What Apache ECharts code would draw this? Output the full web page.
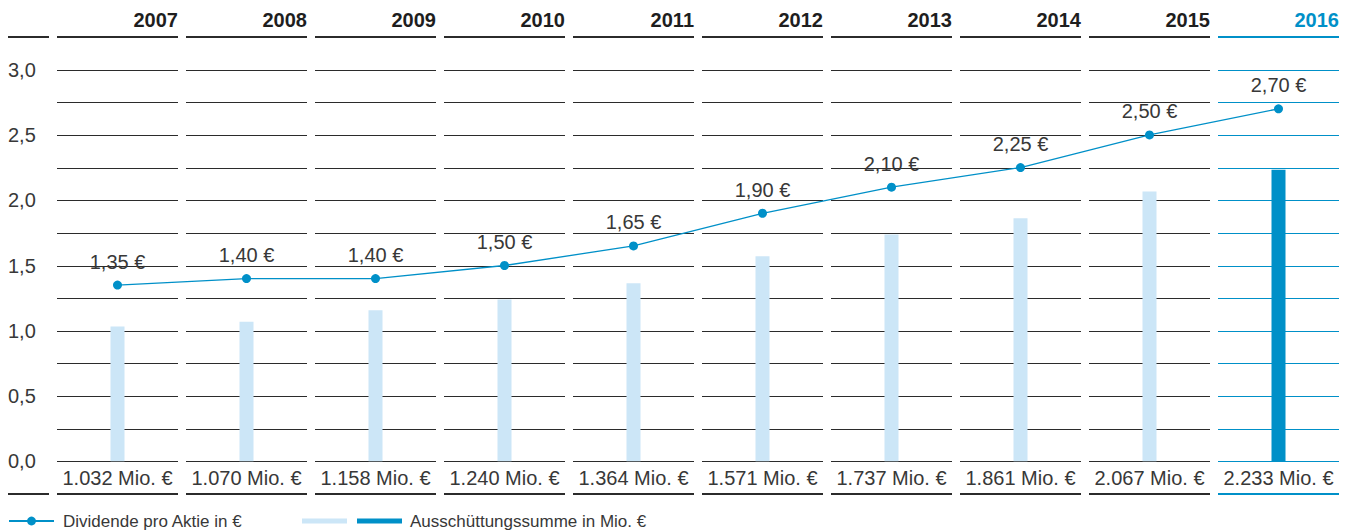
<!DOCTYPE html>
<html>
<head>
<meta charset="utf-8">
<title>Dividende und Ausschüttungssumme</title>
<script src="https://cdn.jsdelivr.net/npm/echarts@6/dist/echarts.min.js"></script>
<style>
html, body { margin: 0; padding: 0; background: #fff; }
#chart { width: 1356px; height: 530px; }
</style>
</head>
<body>
<div id="chart"></div>
<script>
// data
const years = ['2007', '2008', '2009', '2010', '2011', '2012', '2013', '2014', '2015', '2016']
const dividend = [1.35, 1.40, 1.40, 1.50, 1.65, 1.90, 2.10, 2.25, 2.50, 2.70]
const payout = [1032, 1070, 1158, 1240, 1364, 1571, 1737, 1861, 2067, 2233]
const currentYear = '2016'

const BLUE = '#0090c8'
const LIGHT = '#cce6f7'
const INK = '#2b2b2b'
const TEXT = '#383838'
const FONT = '"Liberation Sans", Arial, sans-serif'

const NAME_LINE = 'Dividende pro Aktie in €'
const NAME_PAST = 'Ausschüttungssumme bisher'
const NAME_BAR = 'Ausschüttungssumme in Mio. €'

const fmtDiv = v => v.toFixed(2).replace('.', ',') + ' €'
const fmtMio = v => {
  const s = String(v)
  return s.replace(/\B(?=(\d{3})+(?!\d))/g, '.') + ' Mio. €'
}

// grid segments, year headers and the payout labels per column
const renderColumn = (params, api) => {
  const i = api.value(0)
  const cx = api.coord([i, 0])[0]
  const half = (api.size([1, 0])[0] - 8) / 2
  const x0 = Math.round(cx - half)
  const x1 = Math.round(cx + half)
  const hot = years[i] === currentYear
  const col = hot ? BLUE : INK
  const y = v => api.coord([i, v])[1]
  const children = []
  const hline = (yy, w, c, a, b) => children.push({
    type: 'line',
    shape: { x1: a, y1: yy, x2: b, y2: yy },
    style: { stroke: c, lineWidth: w }
  })

  for (let v = 0; v <= 3.0001; v += 0.25) {
    hline(Math.round(y(v)) + 0.5, 1, col, x0, x1)
  }
  const top = Math.round(y(3.25))
  const bot = Math.round(y(-0.25))
  hline(top, 2, col, x0, x1)
  hline(bot, 2, col, x0, x1)
  if (i === 0) {
    hline(top, 2, INK, 8, x0 - 8)
    hline(bot, 2, INK, 8, x0 - 8)
  }

  children.push({
    type: 'text',
    style: {
      text: years[i], x: x1, y: top - 17,
      align: 'right', verticalAlign: 'middle',
      fontSize: 20, fontWeight: 'bold', fontFamily: FONT,
      fill: hot ? BLUE : '#1e1e1e'
    }
  })
  children.push({
    type: 'text',
    style: {
      text: fmtMio(payout[i]), x: cx, y: (y(0) + y(-0.25)) / 2,
      align: 'center', verticalAlign: 'middle',
      fontSize: 20, fontFamily: FONT, fill: TEXT
    }
  })
  return { type: 'group', children }
}

const chart = echarts.init(document.getElementById('chart'), null, { renderer: 'svg' })

chart.setOption({
  animation: false,
  textStyle: { fontFamily: FONT },
  grid: { left: 53, right: 13, top: 37, bottom: 36 },
  xAxis: {
    type: 'category',
    data: years,
    axisLine: { show: false },
    axisTick: { show: false },
    axisLabel: { show: false },
    splitLine: { show: false }
  },
  yAxis: [
    {
      type: 'value',
      min: -0.25,
      max: 3.25,
      interval: 0.25,
      axisLine: { show: false },
      axisTick: { show: false },
      splitLine: { show: false },
      axisLabel: {
        align: 'left',
        margin: 45,
        fontSize: 20,
        color: TEXT,
        fontFamily: FONT,
        formatter: v => {
          const twice = v * 2
          if (v < 0 || v > 3 || Math.abs(twice - Math.round(twice)) > 1e-6) return ''
          return v.toFixed(1).replace('.', ',')
        }
      }
    },
    {
      type: 'value',
      min: -250,
      max: 3250,
      interval: 250,
      show: false
    }
  ],
  legend: [
    {
      data: [NAME_LINE],
      left: 8,
      top: 512,
      padding: 0,
      itemWidth: 45,
      itemHeight: 11,
      textStyle: { fontSize: 17, lineHeight: 18, color: TEXT, fontFamily: FONT, padding: [0, 0, 0, 4] }
    },
    {
      data: [
        { name: NAME_PAST, icon: 'rect' },
        { name: NAME_BAR, icon: 'rect' }
      ],
      left: 302,
      top: 512,
      padding: 0,
      itemGap: 2,
      itemWidth: 45,
      itemHeight: 5,
      formatter: name => (name === NAME_BAR ? name : ''),
      textStyle: { fontSize: 17, lineHeight: 18, color: TEXT, fontFamily: FONT, padding: [0, 0, 0, 3] }
    }
  ],
  series: [
    {
      type: 'custom',
      name: 'frame',
      silent: true,
      clip: false,
      z: 1,
      renderItem: renderColumn,
      encode: { x: 0, y: 1 },
      data: years.map((y, i) => [i, 0])
    },
    {
      name: NAME_PAST,
      type: 'bar',
      yAxisIndex: 1,
      barWidth: 14,
      barGap: '-100%',
      z: 2,
      itemStyle: { color: LIGHT },
      data: payout.map((v, i) => (years[i] === currentYear ? '-' : v))
    },
    {
      name: NAME_BAR,
      type: 'bar',
      yAxisIndex: 1,
      barWidth: 14,
      barGap: '-100%',
      z: 2,
      itemStyle: { color: BLUE },
      data: payout.map((v, i) => (years[i] === currentYear ? v : '-'))
    },
    {
      name: NAME_LINE,
      type: 'line',
      z: 3,
      symbol: 'circle',
      symbolSize: 9,
      lineStyle: { color: BLUE, width: 1.3 },
      itemStyle: { color: BLUE },
      label: {
        show: true,
        position: 'top',
        distance: 9,
        fontSize: 20,
        color: TEXT,
        fontFamily: FONT,
        formatter: p => fmtDiv(p.value)
      },
      data: dividend
    }
  ]
})

window.addEventListener('resize', () => chart.resize())
</script>
</body>
</html>
